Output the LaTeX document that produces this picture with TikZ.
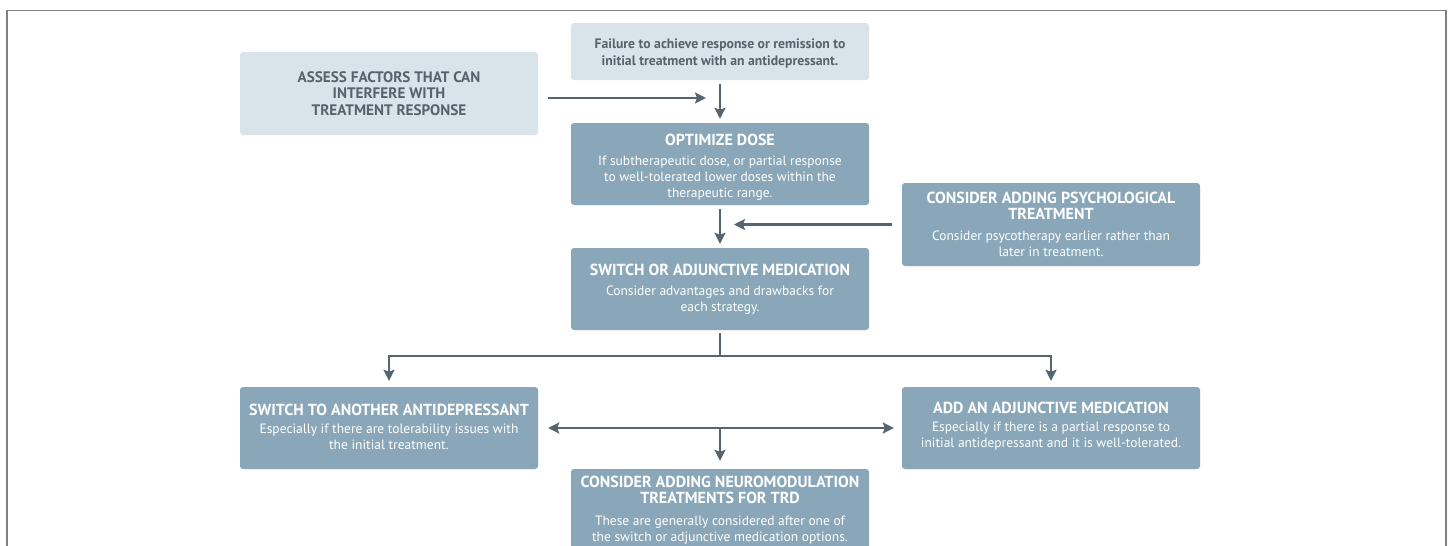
\documentclass[tikz,border=0pt]{standalone}
\usepackage{fontspec}
\setmainfont{PT Sans}
\usetikzlibrary{arrows.meta}
\definecolor{lightfill}{HTML}{D9E3EA}
\definecolor{darkfill}{HTML}{89A7B8}
\definecolor{textdark}{HTML}{56636C}
\definecolor{arrowc}{HTML}{56646E}
\definecolor{framec}{HTML}{808080}
\newcommand{\ttlfont}{\fontsize{16}{17}\selectfont\bfseries}
\newcommand{\bodyfont}{\fontsize{13.5}{16}\selectfont}
\newcommand{\up}[1]{\rule{0pt}{#1}}
\newcommand{\dn}[1]{\rule[-#1]{0pt}{#1}}
\tikzset{
  lightbox/.style={fill=lightfill, rounded corners=3pt, align=center, text=textdark,
    minimum width=298pt, inner sep=0pt},
  darkbox/.style={fill=darkfill, rounded corners=3pt, align=center, text=white,
    minimum width=298pt, minimum height=82pt, inner sep=0pt, font=\bodyfont},
  conn/.style={draw=arrowc, line width=2.5pt},
  arr/.style={conn, -{Stealth[length=11pt,width=11pt,inset=2pt]}},
  darr/.style={conn, {Stealth[length=11pt,width=11pt,inset=2pt]}-{Stealth[length=11pt,width=11pt,inset=2pt]}}
}
\begin{document}
\begin{tikzpicture}[x=1pt,y=-1pt]
\useasboundingbox (0,0) rectangle (1448,546);
\clip (0,0) rectangle (1448,546);
\fill[white] (0,0) rectangle (1448,546);
\draw[framec, line width=1.5pt] (7,560) -- (7,10.5) -- (1446,10.5) -- (1446,560);

\node[lightbox, minimum height=57pt, font=\fontsize{13.7}{17}\selectfont\bfseries] (top) at (720,51.5)
  {\up{14.3pt}Failure to achieve response or remission to\\initial treatment with an antidepressant.};
\node[lightbox, minimum height=83pt, font=\fontsize{15.2}{16.5}\selectfont\bfseries] (assess) at (389,93.5)
  {ASSESS FACTORS THAT CAN\\INTERFERE WITH\\TREATMENT RESPONSE};
\node[darkbox] (opt) at (720,164)
  {{\ttlfont\up{18pt}OPTIMIZE DOSE}\\[4pt]If subtherapeutic dose, or partial response\\to well-tolerated lower doses within the\\therapeutic range.};
\node[darkbox, minimum height=83pt] (psych) at (1051,224.5)
  {{\ttlfont CONSIDER ADDING PSYCHOLOGICAL}\\{\ttlfont TREATMENT}\\[5pt]Consider psycotherapy earlier rather than\\later in treatment.};
\node[darkbox] (sw) at (720,289)
  {{\ttlfont SWITCH OR ADJUNCTIVE MEDICATION}\\[4pt]Consider advantages and drawbacks for\\each strategy.};
\node[darkbox] (swt) at (389,428)
  {{\ttlfont SWITCH TO ANOTHER ANTIDEPRESSANT}\\[2pt]Especially if there are tolerability issues with\\the initial treatment.\dn{3pt}};
\node[darkbox] (addj) at (1051,428)
  {{\ttlfont ADD AN ADJUNCTIVE MEDICATION}\\[2pt]Especially if there is a partial response to\\initial antidepressant and it is well-tolerated.\dn{6pt}};
\node[darkbox] (neuro) at (720,510)
  {{\ttlfont CONSIDER ADDING NEUROMODULATION}\\{\ttlfont TREATMENTS FOR TRD}\\[6pt]These are generally considered after one of\\the switch or adjunctive medication options.};

\coordinate (j1) at (706,98);
\coordinate (j2) at (734,224.5);
\coordinate (split) at (720,356);
\coordinate (mid) at (720,428);

\draw[arr, shorten <=4pt, shorten >=4pt] (top.south) -- (opt.north);
\draw[arr, shorten <=10pt] (assess.east |- j1) -- (j1);
\draw[arr, shorten <=4pt, shorten >=4pt] (opt.south) -- (sw.north);
\draw[arr, shorten <=10pt] (psych.west) -- (j2);
\draw[conn, shorten <=3pt] (sw.south) -- (split);
\draw[arr, shorten >=6pt] (split) -| (swt.north);
\draw[arr, shorten >=6pt] (split) -| (addj.north);
\draw[darr, shorten <=10pt, shorten >=8pt] (swt.east) -- (addj.west);
\draw[arr, shorten >=8pt] (mid) -- (neuro.north);
\end{tikzpicture}
\end{document}
